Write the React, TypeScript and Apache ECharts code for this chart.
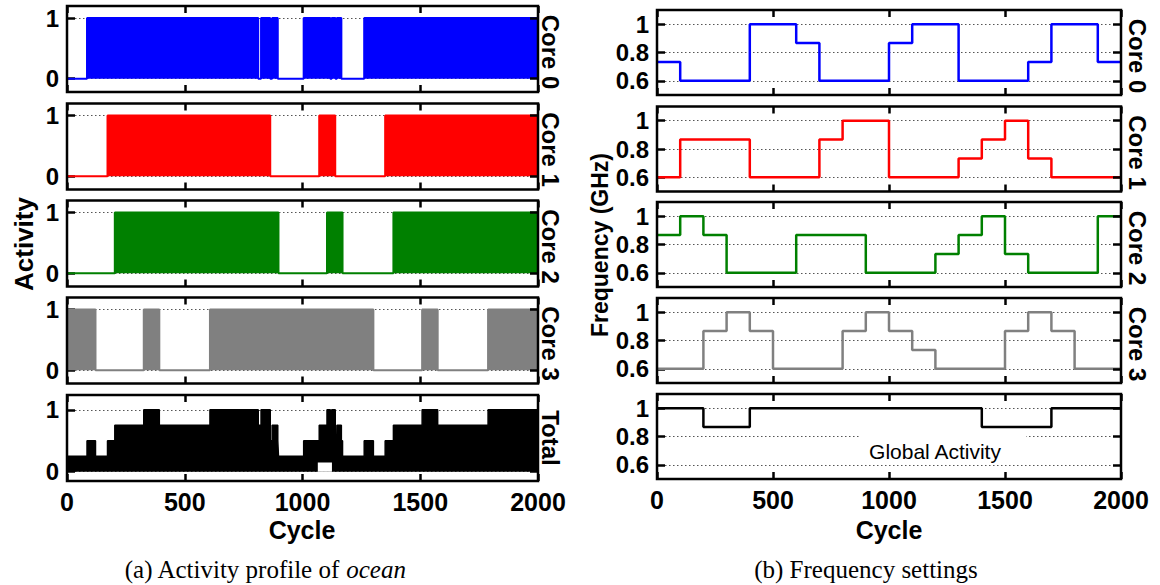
import React, { useEffect, useRef } from "react";
import * as echarts from "echarts";

type Pt = [number, number];

// ---------- tick values ----------
const activityTickValues = [0, 1];
const frequencyTickValues = [0.6, 0.8, 1];

const coreLabels = ["Core 0", "Core 1", "Core 2", "Core 3"];
const coreColors = ["#0000ff", "#ff0000", "#008000", "#808080"];

// ---------- (a) activity: [cycle, state]; 1 = busy (dense 0/1 switching), 0 = idle ----------
const core0Activity: Pt[] = [[0, 0], [85, 1], [812, 0], [824, 1], [863, 0], [871, 1], [895, 0], [1005, 1], [1118, 0], [1124, 1], [1140, 0], [1146, 1], [1165, 0], [1262, 1], [2000, 1]];
const core1Activity: Pt[] = [[0, 0], [172, 1], [863, 0], [1071, 1], [1139, 0], [1351, 1], [2000, 1]];
const core2Activity: Pt[] = [[0, 0], [203, 1], [898, 0], [1104, 1], [1170, 0], [1386, 1], [2000, 1]];
const core3Activity: Pt[] = [[0, 1], [121, 0], [326, 1], [392, 0], [607, 1], [1301, 0], [1508, 1], [1574, 0], [1788, 1], [2000, 1]];
// lower edge of the total-activity band where it lifts off zero
const totalActivityFloor: Pt[] = [[0, 0], [1065, 0.15], [1125, 0], [2000, 0]];

// ---------- (b) frequency settings (GHz): [cycle, value] ----------
const core0Frequency: Pt[] = [[0, 0.733], [100, 0.6], [400, 1], [600, 0.867], [700, 0.6], [1000, 0.867], [1100, 1], [1300, 0.6], [1600, 0.733], [1700, 1], [1900, 0.733], [2000, 0.733]];
const core1Frequency: Pt[] = [[0, 0.6], [100, 0.867], [400, 0.6], [700, 0.867], [800, 1], [1000, 0.6], [1300, 0.733], [1400, 0.867], [1500, 1], [1600, 0.733], [1700, 0.6], [2000, 0.6]];
const core2Frequency: Pt[] = [[0, 0.867], [100, 1], [200, 0.867], [300, 0.6], [600, 0.867], [900, 0.6], [1200, 0.733], [1300, 0.867], [1400, 1], [1500, 0.733], [1600, 0.6], [1900, 1], [2000, 1]];
const core3Frequency: Pt[] = [[0, 0.6], [200, 0.867], [300, 1], [400, 0.867], [500, 0.6], [800, 0.867], [900, 1], [1000, 0.867], [1100, 0.733], [1200, 0.6], [1500, 0.867], [1600, 1], [1700, 0.867], [1800, 0.6], [2000, 0.6]];
const globalFrequency: Pt[] = [[0, 1], [200, 0.867], [400, 1], [1400, 0.867], [1700, 1], [2000, 1]];

const coreActivities = [core0Activity, core1Activity, core2Activity, core3Activity];
const coreFrequencies = [core0Frequency, core1Frequency, core2Frequency, core3Frequency];

const valueAt = (pts: Pt[], t: number) => {
  let v = pts[0][1];
  for (const [x, y] of pts) {
    if (x <= t) v = y;
    else break;
  }
  return v;
};

// total activity = mean of the four cores' activity
const totalBreaks = Array.from(new Set(coreActivities.flat().map((p) => p[0]))).sort((a, b) => a - b);
const totalActivity: Pt[] = totalBreaks.map((t) => [t, coreActivities.reduce((s, c) => s + valueAt(c, t), 0) / 4]);

const SANS = '"Liberation Sans", Arial, Helvetica, sans-serif';
const SERIF = '"Liberation Serif", "Times New Roman", serif';

function buildOption() {
  const grid: any[] = [];
  const xAxis: any[] = [];
  const yAxis: any[] = [];
  const series: any[] = [];
  const graphic: any[] = [];

  const leftTops = [6, 103.5, 200.5, 297.5, 395];
  const rightTops = [10, 106.5, 202, 298, 394];

  const addPanel = (
    left: number,
    top: number,
    width: number,
    height: number,
    yMin: number,
    yMax: number,
    ticks: number[],
    showX: boolean
  ) => {
    const gi = grid.length;
    grid.push({
      left,
      top,
      width,
      height,
      show: true,
      borderColor: "#000",
      borderWidth: 2.5,
      backgroundColor: "rgba(0,0,0,0)",
      z: 5,
    });
    const xBase = {
      gridIndex: gi,
      type: "value",
      min: 0,
      max: 2000,
      interval: 500,
      axisLine: { show: false, onZero: false },
      axisTick: { show: true, inside: true, length: 7, lineStyle: { color: "#000", width: 2.5 } },
      splitLine: { show: false },
      z: 6,
    };
    xAxis.push({
      ...xBase,
      position: "bottom",
      axisLabel: {
        show: showX,
        fontSize: 25,
        fontWeight: "bold",
        color: "#000",
        fontFamily: SANS,
        margin: 8,
        formatter: (v: number) => String(v),
      },
    });
    xAxis.push({ ...xBase, position: "top", axisLabel: { show: false } });
    const yBase = {
      gridIndex: gi,
      type: "value",
      min: yMin,
      max: yMax,
      axisLine: { show: false, onZero: false },
      axisTick: {
        show: true,
        inside: true,
        length: 8,
        customValues: ticks,
        lineStyle: { color: "#000", width: 2.5 },
      },
    };
    yAxis.push({
      ...yBase,
      position: "left",
      axisLabel: {
        show: true,
        customValues: ticks,
        fontSize: 24,
        fontWeight: "bold",
        color: "#000",
        fontFamily: SANS,
        margin: 8,
        formatter: (v: number) => String(v),
      },
      splitLine: { show: true, lineStyle: { type: [1.5, 2.5], color: "#555", width: 1 } },
    });
    yAxis.push({
      ...yBase,
      position: "right",
      axisLabel: { show: false },
      splitLine: { show: false },
      z: 6,
    });
    return gi;
  };

  const rotText = (text: string, x: number, y: number, rotation: number, size: number) => ({
    type: "text",
    x,
    y,
    rotation,
    style: {
      text,
      font: `bold ${size}px ${SANS}`,
      fill: "#000",
      textAlign: "center",
      textVerticalAlign: "middle",
    },
    z: 10,
  });

  // ---- left: activity ----
  for (let i = 0; i < 5; i++) {
    const isTotal = i === 4;
    const gi = addPanel(67, leftTops[i], 471, 86, isTotal ? -0.15 : -0.22, isTotal ? 1.24 : 1.2, activityTickValues, isTotal);
    if (!isTotal) {
      series.push({
        type: "line",
        xAxisIndex: gi * 2,
        yAxisIndex: gi * 2,
        data: coreActivities[i],
        step: "end",
        symbol: "none",
        silent: true,
        lineStyle: { color: coreColors[i], width: 2 },
        itemStyle: { color: coreColors[i] },
        areaStyle: { color: coreColors[i], opacity: 1 },
      });
      graphic.push(rotText(coreLabels[i], 550, leftTops[i] + 46, -Math.PI / 2, 24));
    } else {
      series.push({
        type: "line",
        xAxisIndex: gi * 2,
        yAxisIndex: gi * 2,
        data: totalActivity,
        step: "end",
        symbol: "none",
        silent: true,
        lineStyle: { color: "#000", width: 1.5 },
        itemStyle: { color: "#000" },
        areaStyle: { color: "#000", opacity: 1 },
      });
      series.push({
        type: "line",
        xAxisIndex: gi * 2,
        yAxisIndex: gi * 2,
        data: totalActivityFloor,
        step: "end",
        symbol: "none",
        silent: true,
        z: 3,
        lineStyle: { width: 0, opacity: 0 },
        itemStyle: { color: "#fff" },
        areaStyle: { color: "#fff", opacity: 1 },
      });
      graphic.push(rotText("Total", 550, leftTops[i] + 43, -Math.PI / 2, 24));
    }
  }

  // ---- right: frequency ----
  for (let i = 0; i < 5; i++) {
    const isGlobal = i === 4;
    const gi = addPanel(657, rightTops[i], 464, 85, 0.5, 1.1, frequencyTickValues, isGlobal);
    series.push({
      type: "line",
      xAxisIndex: gi * 2,
      yAxisIndex: gi * 2,
      data: isGlobal ? globalFrequency : coreFrequencies[i],
      step: "end",
      symbol: "none",
      silent: true,
      lineStyle: { color: isGlobal ? "#000" : coreColors[i], width: 2.5 },
      itemStyle: { color: isGlobal ? "#000" : coreColors[i] },
    });
    if (!isGlobal) graphic.push(rotText(coreLabels[i], 1137, rightTops[i] + 46, -Math.PI / 2, 24));
  }

  // Global Activity label with white background
  graphic.push({ type: "rect", shape: { x: 860, y: 430, width: 166, height: 31 }, style: { fill: "#fff" }, z: 9 });
  graphic.push({
    type: "text",
    x: 935,
    y: 451,
    style: {
      text: "Global Activity",
      font: `21px ${SANS}`,
      fill: "#000",
      textAlign: "center",
      textVerticalAlign: "middle",
    },
    z: 10,
  });

  // axis titles
  graphic.push(rotText("Activity", 24, 244, Math.PI / 2, 26));
  graphic.push(rotText("Frequency (GHz)", 600, 245, Math.PI / 2, 23));
  graphic.push(rotText("Cycle", 302, 530, 0, 25));
  graphic.push(rotText("Cycle", 889, 530, 0, 25));

  // captions
  graphic.push({
    type: "text",
    x: 265,
    y: 569,
    style: {
      text: "(a) Activity profile of {i|ocean}",
      font: `25px ${SERIF}`,
      fill: "#000",
      textAlign: "center",
      textVerticalAlign: "middle",
      rich: { i: { fontStyle: "italic", fontSize: 25, fontFamily: SERIF } },
    },
    z: 10,
  });
  graphic.push({
    type: "text",
    x: 866,
    y: 569,
    style: {
      text: "(b) Frequency settings",
      font: `25px ${SERIF}`,
      fill: "#000",
      textAlign: "center",
      textVerticalAlign: "middle",
    },
    z: 10,
  });

  return {
    animation: false,
    backgroundColor: "#fff",
    grid,
    xAxis,
    yAxis,
    series,
    graphic,
  };
}

export default function App() {
  const ref = useRef<HTMLDivElement>(null);
  useEffect(() => {
    document.body.style.margin = "0";
    const chart = echarts.init(ref.current!, undefined, { renderer: "svg" });
    chart.setOption(buildOption() as any);
    return () => chart.dispose();
  }, []);
  return <div ref={ref} style={{ position: "absolute", left: 0, top: 0, width: 1160, height: 585 }} />;
}
